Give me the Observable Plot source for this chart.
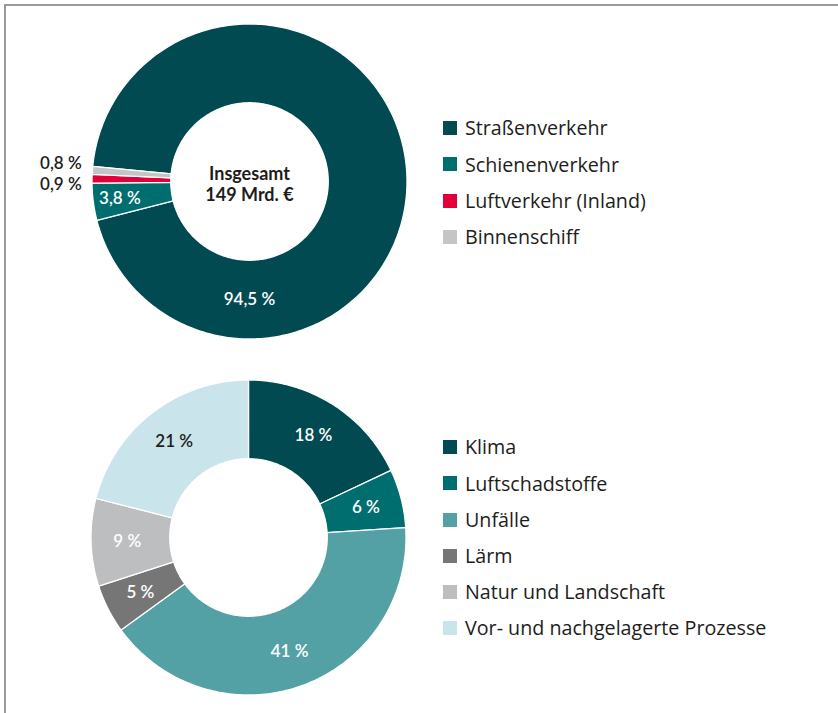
<!DOCTYPE html>
<html><head><meta charset="utf-8">
<script src="https://cdn.jsdelivr.net/npm/d3@7"></script>
<script src="https://cdn.jsdelivr.net/npm/@observablehq/plot@0.6"></script>
<style>
  html,body{margin:0;padding:0;background:#fff;}
  body{width:838px;height:713px;position:relative;overflow:hidden;font-family:Lato,"Open Sans",sans-serif;color:#1d1d1b;}
  #frame{position:absolute;left:4px;top:4px;right:0;bottom:0;border-top:2px solid #9a9a9a;border-left:2px solid #9a9a9a;}
  .chart{position:absolute;}
  .chart svg{overflow:visible;}
  .legend{position:absolute;left:443px;}
  .legend .row{display:flex;align-items:center;height:36.2px;font-family:"Open Sans",Lato,sans-serif;font-size:19.7px;line-height:1;white-space:nowrap;}
  .legend .sw{width:14px;height:14px;margin-right:8px;flex:none;}
</style></head>
<body>
<div id="frame"></div>
<div id="c1" class="chart"></div>
<div id="c2" class="chart"></div>
<div id="l1" class="legend"></div>
<div id="l2" class="legend"></div>
<script>
// ---------- data ----------
const modes = ["Straßenverkehr", "Schienenverkehr", "Luftverkehr (Inland)", "Binnenschiff"];
const modeShares = [94.5, 3.8, 0.9, 0.8];
const modeLabels = ["94,5\u202F%", "3,8\u202F%", "0,9\u202F%", "0,8\u202F%"];
const modeColors = ["#024a51", "#006e6f", "#e2003b", "#c4c5c7"];
const totalLabel = "Insgesamt\n149 Mrd. €";

const costTypes = ["Klima", "Luftschadstoffe", "Unfälle", "Lärm", "Natur und Landschaft", "Vor- und nachgelagerte Prozesse"];
const costShares = [18, 6, 41, 5, 9, 21];
const costLabels = ["18\u202F%", "6\u202F%", "41\u202F%", "5\u202F%", "9\u202F%", "21\u202F%"];
const costColors = ["#024a51", "#006e6f", "#53a1a5", "#767676", "#bdbec0", "#cae4ec"];

// ---------- layout (presentation) ----------
const R = 157.5;          // px per unit radius
const W = 440, H = 340;   // plot box
const INNER = 0.5;

function donutPlot(names, shares, colors, labels, startDeg, placement, centerText) {
  const total = d3.sum(shares);
  const polys = [];
  const texts = [];
  const outside = [];
  let a0 = startDeg;
  names.forEach((name, i) => {
    const a1 = a0 + shares[i] / total * 360;
    const n = Math.max(2, Math.ceil(a1 - a0));
    const ring = [];
    for (let k = 0; k <= n; k++) {
      const a = (a0 + (a1 - a0) * k / n) * Math.PI / 180;
      ring.push({name, c: colors[i], x: Math.sin(a), y: Math.cos(a)});
    }
    for (let k = n; k >= 0; k--) {
      const a = (a0 + (a1 - a0) * k / n) * Math.PI / 180;
      ring.push({name, c: colors[i], x: INNER * Math.sin(a), y: INNER * Math.cos(a)});
    }
    polys.push(...ring);
    const p = (placement && placement[i]) || {};
    const mid = p.angle != null ? p.angle : (a0 + a1) / 2;
    if (shares[i] / total < 0.02) {
      const m = mid * Math.PI / 180;
      outside.push({label: labels[i], x: -1.065, y: 1.06 * Math.cos(m)});
    } else {
      const r = p.r != null ? p.r : 0.77;
      const m = mid * Math.PI / 180;
      const dark = d3.lab(colors[i]).l > 82;
      texts.push({label: labels[i], x: r * Math.sin(m), y: r * Math.cos(m), ink: dark ? "#1d1d1b" : "#ffffff"});
    }
    a0 = a1;
  });
  // spread outside labels vertically so they don't overlap
  if (outside.length > 1) {
    const gap = 20.5 / R;
    outside.sort((a, b) => b.y - a.y);
    const mean = d3.mean(outside, d => d.y);
    const span = gap * (outside.length - 1);
    outside.forEach((d, k) => d.y = mean + span / 2 - k * gap);
  }
  const marks = [
    Plot.line(polys, {x: "x", y: "y", z: "name", fill: "c", stroke: "#fff", strokeWidth: 1.3, curve: "linear-closed"}),
    Plot.text(texts, {x: "x", y: "y", text: "label", fill: "ink", fontSize: 17, fontWeight: 600})
  ];
  if (outside.length) marks.push(Plot.text(outside, {x: "x", y: "y", text: "label", fill: "#1d1d1b", fontSize: 17, fontWeight: 600, textAnchor: "end"}));
  if (centerText) marks.push(Plot.text([centerText], {x: () => 0, y: () => 0, text: d => d, fill: "#1d1d1b", fontSize: 18, fontWeight: 700, lineHeight: 1.2, dy: 2}));
  return Plot.plot({
    width: W, height: H, margin: 0,
    x: {domain: [-W / 2 / R, W / 2 / R], axis: null},
    y: {domain: [-H / 2 / R, H / 2 / R], axis: null},
    color: {type: "identity"},
    style: {fontFamily: "Lato, 'Open Sans', sans-serif", background: "transparent", overflow: "visible"},
    marks
  });
}

function legend(el, names, colors) {
  names.forEach((n, i) => {
    const row = document.createElement("div");
    row.className = "row";
    const sw = document.createElement("span");
    sw.className = "sw"; sw.style.background = colors[i];
    const t = document.createElement("span");
    t.textContent = n;
    row.append(sw, t);
    el.append(row);
  });
}

const c1 = document.getElementById("c1");
c1.style.left = (248.5 - W / 2) + "px"; c1.style.top = (180.5 - H / 2) + "px";
c1.append(donutPlot(modes, modeShares, modeColors, modeLabels, -84.5,
  [{angle: 180, r: 0.75}, {r: 0.83}, null, null], totalLabel));

const c2 = document.getElementById("c2");
c2.style.left = (247.5 - W / 2) + "px"; c2.style.top = (537.3 - H / 2) + "px";
c2.append(donutPlot(costTypes, costShares, costColors, costLabels, 0, null, null));

const l1 = document.getElementById("l1");
l1.style.top = (128.3 - 18.1) + "px";
legend(l1, modes, modeColors);
const l2 = document.getElementById("l2");
l2.style.top = (447.3 - 18.1) + "px";
legend(l2, costTypes, costColors);
</script>
</body></html>
